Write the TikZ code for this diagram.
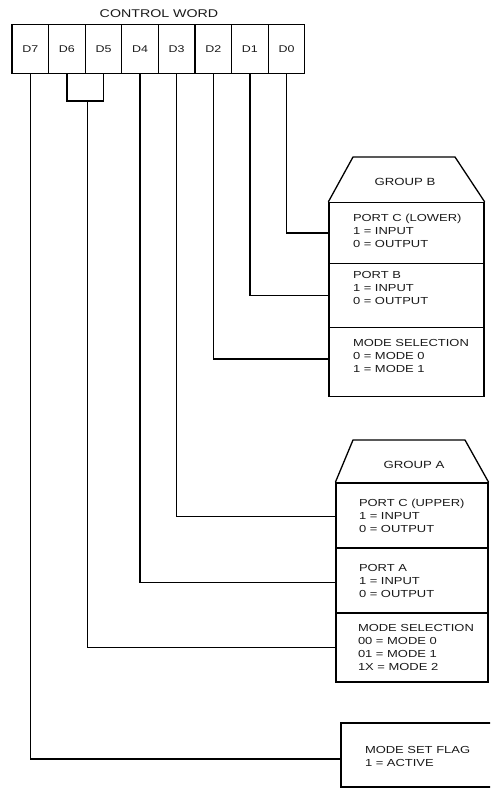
\documentclass[tikz,border=0pt]{standalone}
\usepackage{fontspec}
\setmainfont{Liberation Sans}[FakeStretch=1.27]
\usetikzlibrary{calc}
\begin{document}
\begin{tikzpicture}[x=1pt,y=-1pt,
  line width=1.3pt,
  cell/.style={draw, minimum width=36.6pt, minimum height=49pt, inner sep=0pt, text=black!90, font=\fontsize{9.8}{11}\selectfont},
  box/.style={draw, inner sep=0pt},
  lbl/.style={anchor=west, align=left, inner sep=0pt, text=black!90, font=\fontsize{10.2}{13}\selectfont},
  ttl/.style={inner sep=0pt, text=black!90, font=\fontsize{10.4}{12}\selectfont},
  wire/.style={line width=1.3pt}
]
\useasboundingbox (0,0) rectangle (490,789);
\clip (0,0) rectangle (490,789);
\node[ttl, font=\fontsize{11.2}{13}\selectfont] (cw) at (159,14) {CONTROL WORD};
\foreach \i [count=\k from 0] in {7,...,0}
  \node[cell] (d\i) at ({30.3+36.6*\k},49) {D\i};
% group B
\node[box, minimum width=155pt, minimum height=61pt] (pcl) at (406.5,233) {};
\node[box, minimum width=155pt, minimum height=64pt] (pb) at (406.5,295.5) {};
\node[box, minimum width=155pt, minimum height=69pt] (msb) at (406.5,362) {};
\draw (pcl.north west) -- (353,157) -- (455,157) -- (pcl.north east);
\node[ttl] (gb) at (405,182) {GROUP B};
\node[lbl] (tpcl) at ([xshift=24pt,yshift=2pt]pcl.west) {PORT C (LOWER)\\1 = INPUT\\0 = OUTPUT};
\node[lbl] (tpb) at ([xshift=24pt,yshift=8pt]pb.west) {PORT B\\1 = INPUT\\0 = OUTPUT};
\node[lbl] (tmsb) at ([xshift=24pt,yshift=6pt]msb.west) {MODE SELECTION\\0 = MODE 0\\1 = MODE 1};
% group A
\node[box, minimum width=152pt, minimum height=65pt] (pcu) at (412,515.5) {};
\node[box, minimum width=152pt, minimum height=65pt] (pa) at (412,580.5) {};
\node[box, minimum width=152pt, minimum height=69pt] (msa) at (412,647.5) {};
\draw (pcu.north west) -- (353,440) -- (465,440) -- (pcu.north east);
\node[ttl] (ga) at (414,465) {GROUP A};
\node[lbl] (tpcu) at ([xshift=23pt]pcu.west) {PORT C (UPPER)\\1 = INPUT\\0 = OUTPUT};
\node[lbl] (tpa) at ([xshift=23pt]pa.west) {PORT A\\1 = INPUT\\0 = OUTPUT};
\node[lbl] (tmsa) at ([xshift=22pt]msa.west) {MODE SELECTION\\00 = MODE 0\\01 = MODE 1\\1X = MODE 2};
% mode set flag
\node[box, minimum width=159pt, minimum height=64pt] (msf) at (420.5,755) {};
\node[lbl] (tmsf) at ([xshift=24pt,yshift=-1pt]msf.west) {MODE SET FLAG\\1 = ACTIVE};
% connectors
\draw[wire] (d0.south) |- (pcl.west);
\draw[wire] (d1.south) |- (pb.west);
\draw[wire] (d2.south) |- ([yshift=3pt]msb.west);
\draw[wire] (d3.south) |- ([yshift=-1pt]pcu.west);
\draw[wire] (d4.south) |- ([yshift=-2pt]pa.west);
\coordinate (b6) at ([yshift=-27pt]d6.south);
\coordinate (b5) at ([yshift=-27pt]d5.south);
\draw[wire] (d6.south) -- (b6) -- (b5) -- (d5.south);
\coordinate (br) at ($(b6)!0.56!(b5)$);
\draw[wire] (br) |- (msa.west);
\draw[wire] (d7.south) |- ([yshift=-4pt]msf.west);
\end{tikzpicture}
\end{document}
